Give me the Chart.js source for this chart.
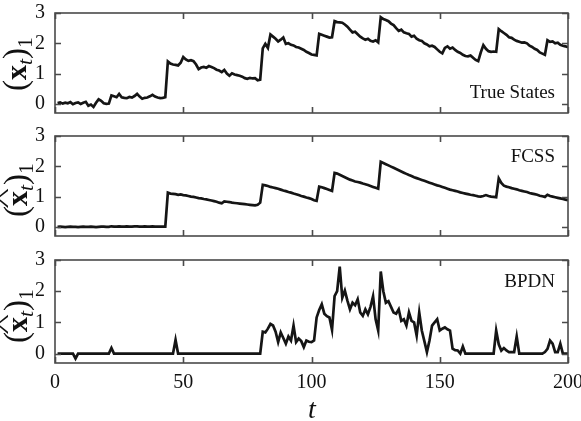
<!DOCTYPE html>
<html><head><meta charset="utf-8">
<script src="https://cdn.jsdelivr.net/npm/chart.js@4/dist/chart.umd.min.js"></script>
<style>
html,body{margin:0;padding:0;width:581px;height:421px;overflow:hidden;background:#fff;}
.pan{position:absolute;left:0;}
.ylab{position:absolute;font-family:'Liberation Serif','Times New Roman',serif;font-size:30px;color:#111;white-space:nowrap;transform:translate(-50%,-50%) rotate(-90deg);line-height:1;}
.ylab sub{font-size:0.72em;vertical-align:-0.28em;}
.ylab .par{font-size:1.1em;}
.hx{position:relative;display:inline-block;}
.hat{position:absolute;left:0;width:100%;top:-0.42em;text-align:center;font-weight:normal;transform:scaleX(1.8);font-size:0.8em;}
.xlab{position:absolute;left:312px;top:393px;transform:translateX(-50%);font-family:'Liberation Serif',serif;font-style:italic;font-size:28px;color:#111;}
</style></head><body>
<div class="pan" style="top:-9px"><canvas id="c1" width="600" height="144"></canvas></div>
<div class="pan" style="top:114px"><canvas id="c2" width="600" height="144"></canvas></div>
<div class="pan" style="top:238px"><canvas id="c3" width="600" height="165"></canvas></div>
<div class="ylab" style="left:18px;top:64px"><span class="par">(</span><b>x</b><sub><i>t</i></sub><span class="par">)</span><sub>1</sub></div>
<div class="ylab" style="left:19px;top:190px"><span class="par">(</span><span class="hx"><b>x</b><span class="hat">^</span></span><sub><i>t</i></sub><span class="par">)</span><sub>1</sub></div>
<div class="ylab" style="left:19px;top:316px"><span class="par">(</span><span class="hx"><b>x</b><span class="hat">^</span></span><sub><i>t</i></sub><span class="par">)</span><sub>1</sub></div>
<div class="xlab">t</div>
<script>
const panelTitles = ['True States', 'FCSS', 'BPDN'];
const yTicks = [0, 1, 2, 3];
const xTicks = [0, 50, 100, 150, 200];

const trueStates = [
0.03,0.05,0.01,0.04,0.02,0.06,-0.01,0.03,0.05,0.00,
0.04,0.07,-0.06,-0.02,-0.10,0.04,0.15,0.10,0.02,0.00,
0.01,0.28,0.25,0.22,0.33,0.22,0.20,0.19,0.23,0.21,
0.26,0.33,0.24,0.17,0.20,0.21,0.25,0.30,0.24,0.21,
0.19,0.20,0.22,1.40,1.33,1.30,1.29,1.27,1.36,1.55,
1.47,1.42,1.44,1.41,1.30,1.15,1.20,1.22,1.19,1.25,
1.22,1.18,1.13,1.10,1.05,1.12,1.00,0.93,1.01,0.97,
0.95,0.93,0.90,0.85,0.83,0.86,0.84,0.85,0.78,0.80,
1.83,1.98,1.85,2.29,2.22,2.15,2.06,2.12,2.19,1.98,
2.00,1.95,1.93,1.88,1.86,1.82,1.78,1.72,1.68,1.63,
1.62,1.60,2.31,2.28,2.25,2.22,2.19,2.20,2.73,2.70,
2.69,2.68,2.62,2.55,2.45,2.36,2.38,2.30,2.22,2.16,
2.12,2.15,2.08,2.06,2.10,2.03,2.86,2.80,2.77,2.73,
2.65,2.60,2.50,2.41,2.45,2.36,2.33,2.31,2.22,2.25,
2.15,2.10,2.08,2.00,1.96,1.90,1.92,1.88,1.80,1.72,
1.67,1.85,1.90,1.82,1.86,1.78,1.72,1.68,1.62,1.58,
1.57,1.60,1.52,1.45,1.41,1.70,1.94,1.82,1.74,1.72,
1.73,1.72,2.47,2.40,2.34,2.28,2.20,2.18,2.12,2.08,
2.05,2.02,2.03,2.00,1.92,1.88,1.82,1.78,1.70,1.66,
1.62,2.10,2.05,2.06,2.00,2.02,1.95,1.92,1.90,1.87
];

const fcss = [
0.00,0.01,0.00,-0.01,0.00,0.01,0.00,0.00,-0.01,0.00,
0.01,0.00,0.00,0.01,0.00,-0.01,0.00,0.01,0.01,0.00,
0.00,0.02,0.01,0.01,0.02,0.01,0.01,0.02,0.01,0.01,
0.02,0.02,0.01,0.01,0.02,0.01,0.01,0.02,0.01,0.01,
0.01,0.01,0.01,1.13,1.10,1.09,1.08,1.06,1.07,1.05,
1.04,1.02,1.00,0.99,0.97,0.95,0.94,0.92,0.91,0.89,
0.87,0.85,0.83,0.80,0.78,0.84,0.83,0.82,0.80,0.79,
0.78,0.77,0.76,0.75,0.74,0.73,0.72,0.71,0.73,0.80,
1.39,1.37,1.35,1.32,1.30,1.28,1.26,1.23,1.20,1.18,
1.15,1.13,1.10,1.08,1.05,1.02,1.00,0.97,0.95,0.92,
0.88,0.86,1.33,1.31,1.28,1.25,1.22,1.19,1.78,1.76,
1.72,1.68,1.64,1.60,1.56,1.53,1.50,1.48,1.46,1.43,
1.41,1.38,1.35,1.32,1.29,1.26,2.15,2.11,2.07,2.03,
1.99,1.95,1.91,1.87,1.83,1.79,1.75,1.71,1.68,1.64,
1.61,1.58,1.55,1.52,1.49,1.46,1.43,1.40,1.37,1.35,
1.32,1.29,1.26,1.23,1.21,1.19,1.17,1.14,1.12,1.10,
1.08,1.06,1.05,1.03,1.01,1.00,1.02,1.05,1.02,1.00,
0.99,0.98,1.60,1.45,1.36,1.33,1.31,1.28,1.26,1.24,
1.21,1.19,1.17,1.15,1.12,1.10,1.08,1.06,1.03,1.01,
0.99,1.06,1.02,1.00,0.98,0.96,0.94,0.92,0.90,0.88
];

const bpdn = [
0,0,0,0,0,0,0,-0.16,0,0,
0,0,0,0,0,0,0,0,0,0,
0,0.18,0,0,0,0,0,0,0,0,
0,0,0,0,0,0,0,0,0,0,
0,0,0,0,0,0,0.44,0,0,0,
0,0,0,0,0,0,0,0,0,0,
0,0,0,0,0,0,0,0,0,0,
0,0,0,0,0,0,0,0,0,0,
0.70,0.68,0.80,0.95,0.90,0.70,0.37,0.68,0.50,0.32,
0.55,0.42,0.90,0.37,0.48,0.40,0.21,0.42,0.38,0.37,
0.42,1.16,1.40,1.58,1.28,1.20,1.16,0.76,1.84,2.00,
2.79,1.79,2.02,1.70,1.42,1.63,1.55,1.74,1.32,1.21,
1.42,1.26,1.50,1.84,1.10,0.74,2.63,2.00,1.63,1.68,
1.50,1.32,1.28,1.42,1.05,1.10,0.90,1.32,1.05,1.00,
0.58,1.32,0.74,0.40,0.05,0.42,0.90,1.00,1.10,0.74,
0.80,0.84,0.78,0.74,0.16,0.11,0.10,0.00,0.23,0.00,
0,0,0,0,0,0,0,0,0,0,
0,0.74,0.30,0.10,0.18,0.10,0.05,0.05,0.05,0.55,
0,0,0,0,0,0,0,0,0,0,
0.05,0.15,0.42,0.32,0.05,0.05,0.32,0,0,0
];

const tSteps = trueStates.map((_, i) => i + 1);
const seriesList = [trueStates, fcss, bpdn];
const serif = "Liberation Serif";
Chart.defaults.font.family = serif;

const framePlugin = {
  id: 'frame',
  afterDatasetsDraw(chart, args, opts) {
    const ctx = chart.ctx, a = chart.chartArea;
    const xs = chart.scales.x, ys = chart.scales.y;
    ctx.save();
    ctx.strokeStyle = '#4a4a4a';
    ctx.lineWidth = 1.6;
    ctx.strokeRect(a.left, a.top, a.right - a.left, a.bottom - a.top);
    ctx.beginPath();
    const L = 6;
    yTicks.forEach(v => {
      const p = Math.round(ys.getPixelForValue(v)) + 0.5;
      ctx.moveTo(a.left, p); ctx.lineTo(a.left + L, p);
      ctx.moveTo(a.right, p); ctx.lineTo(a.right - L, p);
    });
    xTicks.forEach(v => {
      const p = Math.round(xs.getPixelForValue(v)) + 0.5;
      ctx.moveTo(p, a.bottom); ctx.lineTo(p, a.bottom - L);
      ctx.moveTo(p, a.top); ctx.lineTo(p, a.top + L);
    });
    ctx.stroke();
    ctx.fillStyle = '#111';
    ctx.font = '19px ' + serif;
    ctx.textAlign = 'right';
    ctx.textBaseline = 'alphabetic';
    ctx.fillText(opts.title, a.right - 13, ys.getPixelForValue(opts.titleValue));
    ctx.restore();
  }
};

function makeChart(id, idx, showX, titleValue) {
  new Chart(document.getElementById(id), {
    type: 'line',
    data: {
      labels: tSteps,
      datasets: [{
        data: seriesList[idx].map((v, i) => ({x: tSteps[i], y: v})),
        borderColor: '#151515',
        borderWidth: 2.7,
        pointRadius: 0,
        tension: 0,
        fill: false
      }]
    },
    options: {
      responsive: false,
      animation: false,
      layout: {padding: {top: 20, right: 32, left: 0, bottom: showX ? 0 : 20}},
      plugins: {legend: {display: false}, tooltip: {enabled: false},
        frame: {title: panelTitles[idx], titleValue: titleValue}},
      scales: {
        x: {
          type: 'linear', min: 0, max: 200,
          display: showX,
          grid: {display: false, drawTicks: false},
          border: {display: false},
          afterBuildTicks: s => { s.ticks = xTicks.map(v => ({value: v})); },
          afterFit: s => { if (showX) s.height = 40; },
          ticks: {color: '#111', font: {family: serif, size: 20}, padding: 8, maxRotation: 0,
            autoSkip: false, callback: v => String(v)}
        },
        y: {
          min: -0.3, max: 3,
          grid: {display: false, drawTicks: false},
          border: {display: false},
          afterBuildTicks: s => { s.ticks = yTicks.map(v => ({value: v})); },
          afterFit: s => { s.width = 55; },
          ticks: {color: '#111', font: {family: serif, size: 20}, padding: 10,
            autoSkip: false, callback: v => String(v)}
        }
      }
    },
    plugins: [framePlugin]
  });
}

makeChart('c1', 0, false, 0.2);
makeChart('c2', 1, false, 2.15);
makeChart('c3', 2, true, 2.15);
</script>
</body></html>
